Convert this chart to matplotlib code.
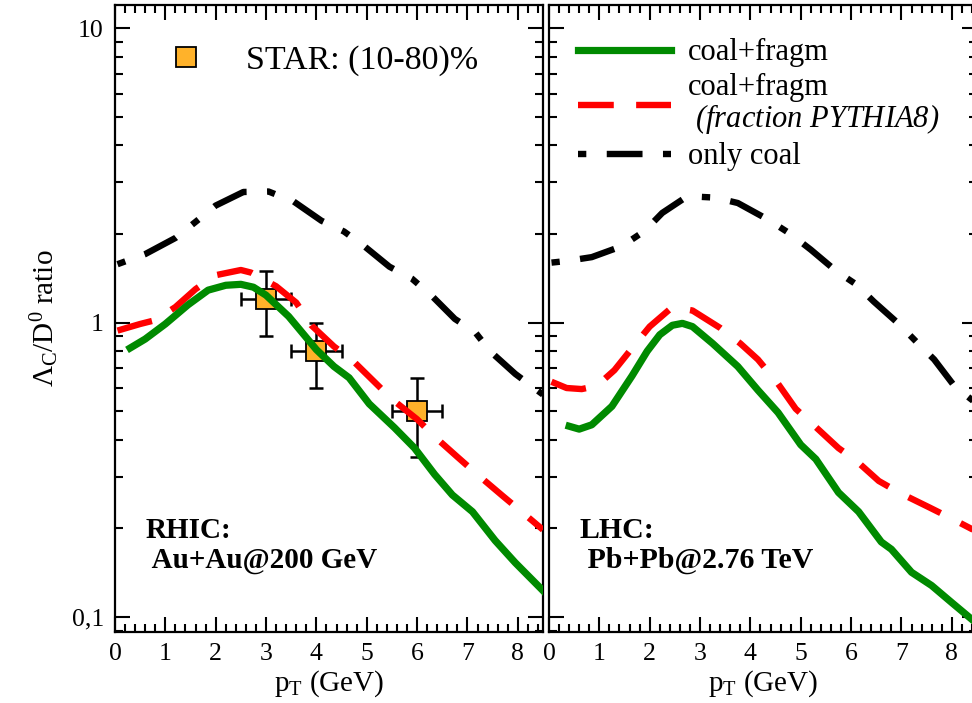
import numpy as np
import matplotlib
matplotlib.use("Agg")
import matplotlib.pyplot as plt
from matplotlib.ticker import FixedLocator, FixedFormatter, LogLocator, MultipleLocator, NullFormatter

plt.rcParams['font.family'] = ['Liberation Serif', 'DejaVu Serif']
plt.rcParams['mathtext.fontset'] = 'custom'
plt.rcParams['mathtext.rm'] = 'Liberation Serif'
plt.rcParams['mathtext.it'] = 'Liberation Serif:italic'
plt.rcParams['mathtext.bf'] = 'Liberation Serif:bold'
# sf slot used for a fully italic line (digits and brackets included)
plt.rcParams['mathtext.sf'] = 'Liberation Serif:italic'

# RHIC panel (Au+Au @ 200 GeV)
rhic_green_x = [0.3, 0.6, 1.0, 1.45, 1.85, 2.2, 2.5, 2.75, 3.0, 3.45, 4.0, 4.35, 4.65, 5.05, 5.55,
                5.95, 6.35, 6.7, 7.1, 7.55, 7.95, 8.5]
rhic_green_y = [0.82, 0.88, 0.99, 1.15, 1.29, 1.34, 1.35, 1.32, 1.24, 1.05, 0.81, 0.71, 0.65, 0.53, 0.44,
                0.375, 0.305, 0.26, 0.228, 0.182, 0.153, 0.123]
rhic_red_x = [0.05, 0.5, 0.8, 1.2, 1.6, 2.0, 2.5, 2.7, 3.2, 3.6, 3.9, 4.35, 4.7, 5.15, 5.5, 6.0,
              6.35, 6.8, 7.15, 7.7, 8.05, 8.5]
rhic_red_y = [0.94, 0.99, 1.02, 1.13, 1.30, 1.45, 1.51, 1.48, 1.33, 1.17, 0.98, 0.83, 0.75, 0.63, 0.55, 0.47,
              0.41, 0.35, 0.31, 0.258, 0.23, 0.198]
rhic_black_x = [0.05, 0.6, 1.2, 1.6, 2.0, 2.55, 3.05, 3.55, 4.1, 4.55, 4.95, 5.45, 5.9, 6.3, 6.75,
                7.15, 7.45, 7.95, 8.5]
rhic_black_y = [1.58, 1.71, 1.94, 2.2, 2.5, 2.78, 2.79, 2.58, 2.22, 2.04, 1.82, 1.55, 1.41, 1.23, 1.03,
                0.93, 0.80, 0.67, 0.57]

# LHC panel (Pb+Pb @ 2.76 TeV)
lhc_green_x = [0.4, 0.6, 0.85, 1.25, 1.65, 1.95, 2.2, 2.45, 2.65, 2.85, 3.25, 3.75, 4.15, 4.55, 5.0,
               5.3, 5.75, 6.15, 6.6, 6.8, 7.2, 7.6, 8.0, 8.5]
lhc_green_y = [0.445, 0.435, 0.45, 0.52, 0.66, 0.80, 0.91, 0.98, 0.995, 0.97, 0.85, 0.71, 0.59, 0.495, 0.385,
               0.344, 0.265, 0.228, 0.18, 0.17, 0.142, 0.128, 0.112, 0.095]
lhc_red_x = [0.05, 0.35, 0.65, 0.95, 1.3, 1.7, 2.0, 2.45, 2.85, 3.4, 3.8, 4.15, 4.55, 4.9, 5.25,
             5.75, 6.1, 6.55, 6.95, 7.55, 8.0, 8.5]
lhc_red_y = [0.63, 0.60, 0.595, 0.61, 0.69, 0.84, 0.97, 1.13, 1.10, 0.96, 0.85, 0.75, 0.62, 0.51, 0.45,
             0.375, 0.34, 0.29, 0.265, 0.236, 0.216, 0.195]
lhc_black_x = [0.05, 0.35, 0.85, 1.45, 1.9, 2.25, 2.75, 3.3, 3.75, 4.35, 4.8, 5.2, 5.7, 6.1, 6.45,
               6.95, 7.3, 7.65, 8.05, 8.5]
lhc_black_y = [1.6, 1.62, 1.67, 1.82, 2.05, 2.36, 2.69, 2.66, 2.55, 2.24, 2.0, 1.77, 1.50, 1.35, 1.18,
               0.99, 0.86, 0.75, 0.61, 0.53]

# STAR data (10-80)%
star_x = [3.0, 4.0, 6.0]
star_y = [1.2, 0.8, 0.5]
star_xerr = [0.5, 0.5, 0.5]
star_yerr = [0.3, 0.2, 0.15]

y_ticks = [0.1, 1, 10]
y_ticklabels = ["0,1", "1", "10"]
x_ticks = [0, 1, 2, 3, 4, 5, 6, 7, 8]

green = '#008a00'
red = '#ff0000'
orange = '#ffb22a'
lw_g, lw_r, lw_b = 5.2, 4.6, 4.6

fig = plt.figure(figsize=(9.72, 7.03), dpi=100)
ax1 = fig.add_axes([0.1183, 0.1010, 0.4403, 0.8919])
ax2 = fig.add_axes([0.5648, 0.1010, 0.4403, 0.8919])

for ax in (ax1, ax2):
    ax.set_yscale('log')
    ax.set_xlim(0, 8.5)
    ax.set_ylim(0.089, 12.0)
    ax.yaxis.set_major_locator(FixedLocator(y_ticks))
    ax.yaxis.set_minor_locator(LogLocator(base=10, subs=np.arange(2, 10)))
    ax.yaxis.set_minor_formatter(NullFormatter())
    ax.xaxis.set_major_locator(FixedLocator(x_ticks))
    ax.xaxis.set_minor_locator(MultipleLocator(0.2))
    ax.tick_params(which='both', direction='in', top=True, right=True, width=1.5, labelsize=18.5, pad=8)
    ax.tick_params(which='major', length=11)
    ax.tick_params(which='minor', length=6)
    for s in ax.spines.values():
        s.set_linewidth(1.6)
    ax.set_xlabel(r"p$_\mathrm{T}$ (GeV)", fontsize=21, labelpad=2)

ax1.yaxis.set_major_formatter(FixedFormatter(y_ticklabels))
ax2.yaxis.set_major_formatter(NullFormatter())
ax1.set_ylabel(r"$\Lambda_\mathrm{C}/\mathrm{D}^0$ ratio", fontsize=21, labelpad=8)

red_dash = (0, (5.6, 3.5))
black_dd = (8.8, (5.6, 3.2, 1.3, 3.2))

# left panel
ax1.errorbar(star_x, star_y, xerr=star_xerr, yerr=star_yerr, fmt='none', ecolor='black',
             elinewidth=1.8, capsize=5, capthick=1.8, zorder=2)
star_h, = ax1.plot(star_x, star_y, 's', ms=15, mfc=orange, mec='black', mew=1.3, zorder=3,
                   label="STAR: (10-80)%")
ax1.plot(rhic_black_x, rhic_black_y, color='black', lw=lw_b, ls=black_dd, dash_capstyle='butt', zorder=4)
ax1.plot(rhic_red_x, rhic_red_y, color=red, lw=lw_r, ls=red_dash, dash_capstyle='butt', zorder=4)
ax1.plot(rhic_green_x, rhic_green_y, color=green, lw=lw_g, solid_joinstyle='round', zorder=5)
ax1.legend(handles=[star_h], loc='upper left', bbox_to_anchor=(0.132, 0.936), frameon=False,
           fontsize=24.5, handlelength=0.85, handletextpad=1.35, borderpad=0, borderaxespad=0)
ax1.text(0.072, 0.184, "RHIC:\n Au+Au@200 GeV", transform=ax1.transAxes, fontsize=21,
         fontweight='bold', ha='left', va='top', linespacing=1.15)

# right panel
ax2.plot(lhc_black_x, lhc_black_y, color='black', lw=lw_b, ls=black_dd, dash_capstyle='butt',
         label="only coal")
ax2.plot(lhc_red_x, lhc_red_y, color=red, lw=lw_r, ls=red_dash, dash_capstyle='butt',
         label="coal+fragm\n" + r"$\mathsf{\ (fraction\ PYTHIA8)}$")
ax2.plot(lhc_green_x, lhc_green_y, color=green, lw=lw_g, solid_joinstyle='round', label="coal+fragm")
h, l = ax2.get_legend_handles_labels()
leg = ax2.legend(h[::-1], l[::-1], loc='upper left', bbox_to_anchor=(0.068, 0.947), frameon=False,
                 fontsize=22, handlelength=3.05, handletextpad=0.55, borderpad=0, borderaxespad=0,
                 labelspacing=0.2)
for t in leg.get_texts():
    t.set_linespacing(1.0)
ax2.text(0.072, 0.184, "LHC:\n Pb+Pb@2.76 TeV", transform=ax2.transAxes, fontsize=21.5,
         fontweight='bold', ha='left', va='top', linespacing=1.15)

fig.savefig("out.png", dpi=100)
